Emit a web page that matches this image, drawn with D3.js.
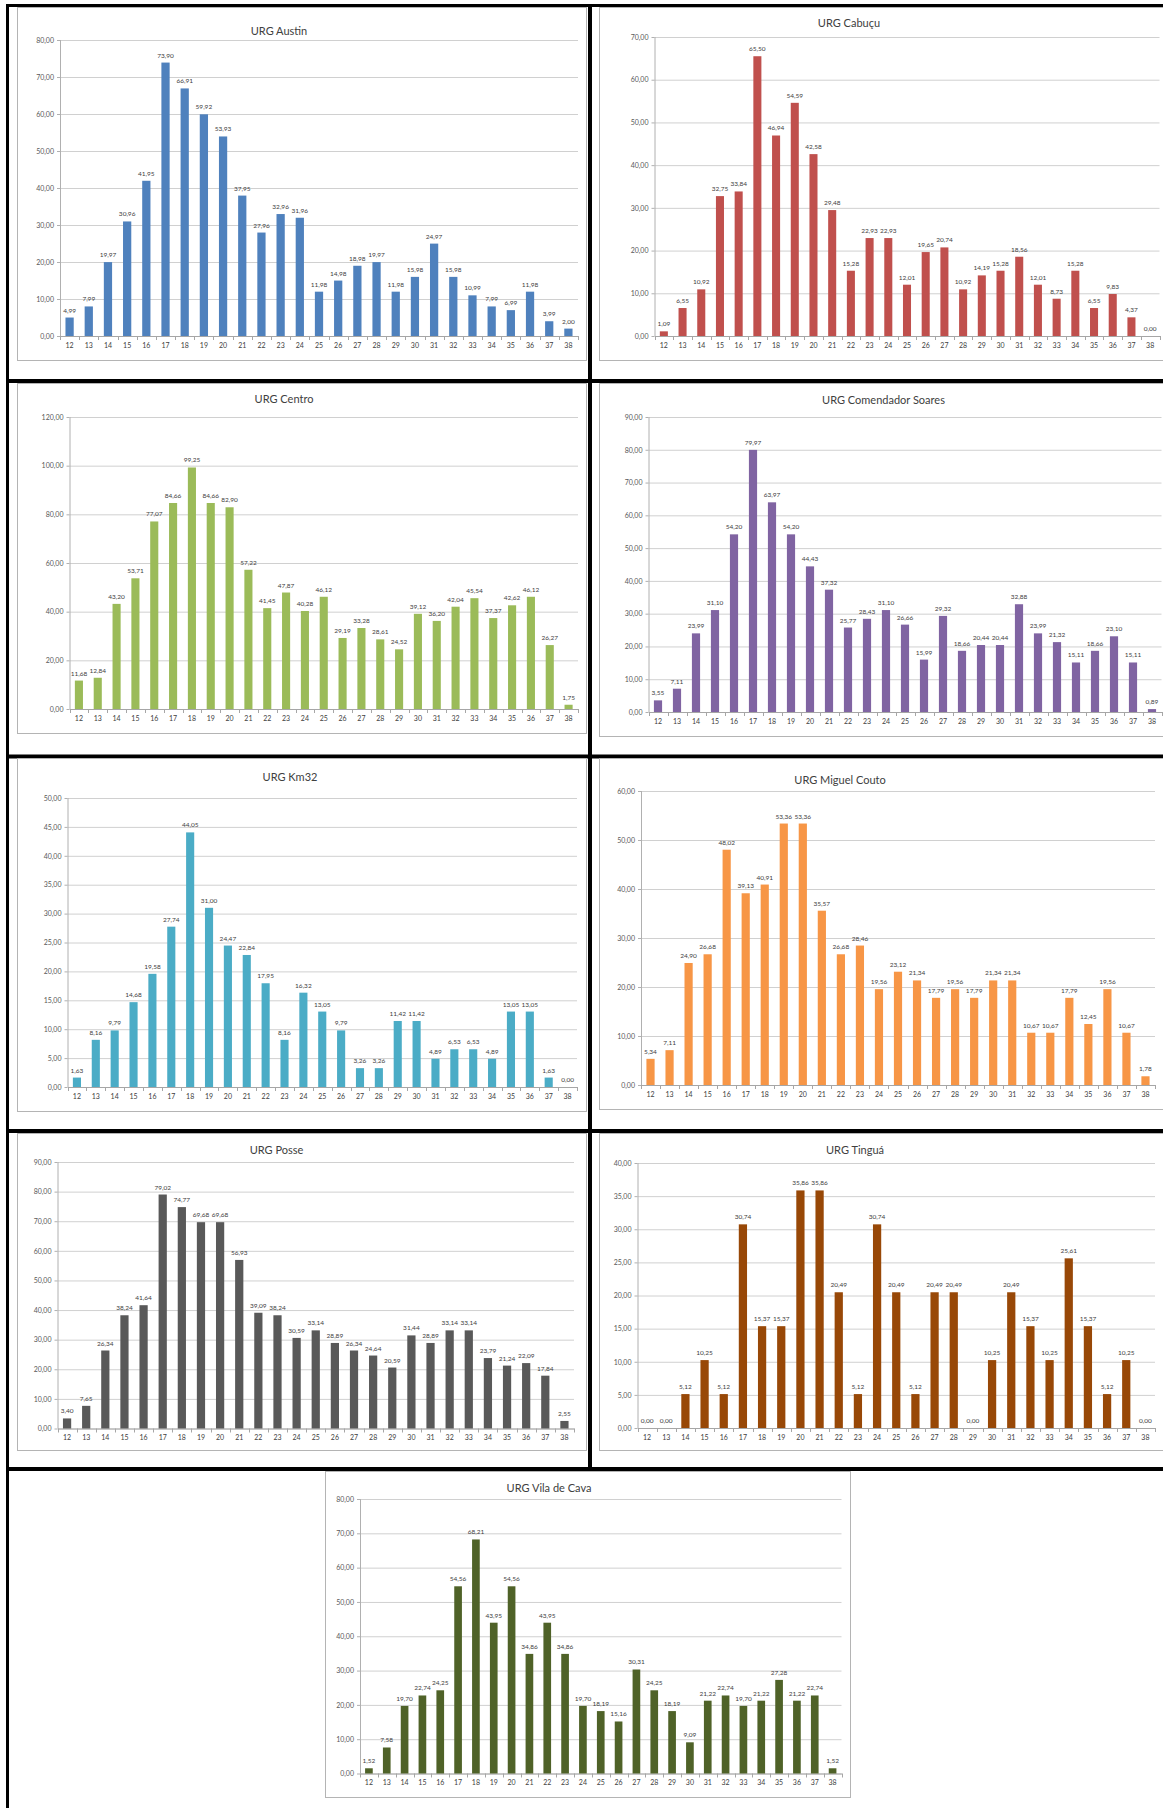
<!DOCTYPE html>
<html>
<head>
<meta charset="utf-8">
<script src="https://cdn.jsdelivr.net/npm/d3@7"></script>
<style>
  html, body { margin: 0; padding: 0; background: #fff; }
  svg { display: block; }
  text { font-family: Lato, "Open Sans", "Liberation Sans", sans-serif; }
</style>
</head>
<body>
<svg id="page" width="1163" height="1808"></svg>
<script>
// Idade (anos) no eixo X
const ages = d3.range(12, 39).map(String);

// Taxas por unidade, uma por idade de 12 a 38
const austin = [4.99, 7.99, 19.97, 30.96, 41.95, 73.90, 66.91, 59.92, 53.93, 37.95, 27.96, 32.96, 31.96, 11.98, 14.98, 18.98, 19.97, 11.98, 15.98, 24.97, 15.98, 10.99, 7.99, 6.99, 11.98, 3.99, 2.00];
const cabucu = [1.09, 6.55, 10.92, 32.75, 33.84, 65.50, 46.94, 54.59, 42.58, 29.48, 15.28, 22.93, 22.93, 12.01, 19.65, 20.74, 10.92, 14.19, 15.28, 18.56, 12.01, 8.73, 15.28, 6.55, 9.83, 4.37, 0.00];
const centro = [11.68, 12.84, 43.20, 53.71, 77.07, 84.66, 99.25, 84.66, 82.90, 57.22, 41.45, 47.87, 40.28, 46.12, 29.19, 33.28, 28.61, 24.52, 39.12, 36.20, 42.04, 45.54, 37.37, 42.62, 46.12, 26.27, 1.75];
const comendadorSoares = [3.55, 7.11, 23.99, 31.10, 54.20, 79.97, 63.97, 54.20, 44.43, 37.32, 25.77, 28.43, 31.10, 26.66, 15.99, 29.32, 18.66, 20.44, 20.44, 32.88, 23.99, 21.32, 15.11, 18.66, 23.10, 15.11, 0.89];
const km32 = [1.63, 8.16, 9.79, 14.68, 19.58, 27.74, 44.05, 31.00, 24.47, 22.84, 17.95, 8.16, 16.32, 13.05, 9.79, 3.26, 3.26, 11.42, 11.42, 4.89, 6.53, 6.53, 4.89, 13.05, 13.05, 1.63, 0.00];
const miguelCouto = [5.34, 7.11, 24.90, 26.68, 48.02, 39.13, 40.91, 53.36, 53.36, 35.57, 26.68, 28.46, 19.56, 23.12, 21.34, 17.79, 19.56, 17.79, 21.34, 21.34, 10.67, 10.67, 17.79, 12.45, 19.56, 10.67, 1.78];
const posse = [3.40, 7.65, 26.34, 38.24, 41.64, 79.02, 74.77, 69.68, 69.68, 56.93, 39.09, 38.24, 30.59, 33.14, 28.89, 26.34, 24.64, 20.59, 31.44, 28.89, 33.14, 33.14, 23.79, 21.24, 22.09, 17.84, 2.55];
const tingua = [0.00, 0.00, 5.12, 10.25, 5.12, 30.74, 15.37, 15.37, 35.86, 35.86, 20.49, 5.12, 30.74, 20.49, 5.12, 20.49, 20.49, 0.00, 10.25, 20.49, 15.37, 10.25, 25.61, 15.37, 5.12, 10.25, 0.00];
const vilaDeCava = [1.52, 7.58, 19.70, 22.74, 24.25, 54.56, 68.21, 43.95, 54.56, 34.86, 43.95, 34.86, 19.70, 18.19, 15.16, 30.31, 24.25, 18.19, 9.09, 21.22, 22.74, 19.70, 21.22, 27.28, 21.22, 22.74, 1.52];

// Título de cada gráfico
const titles = ["URG Austin", "URG Cabuçu", "URG Centro", "URG Comendador Soares", "URG Km32",
                "URG Miguel Couto", "URG Posse", "URG Tinguá", "URG Vila de Cava"];

// Escala do eixo Y de cada gráfico: máximo e intervalo
const yMax  = [80, 70, 120, 90, 50, 60, 90, 40, 80];
const yStep = [10, 10, 20, 10, 5, 10, 10, 5, 10];

const series = [austin, cabucu, centro, comendadorSoares, km32, miguelCouto, posse, tingua, vilaDeCava];

// Posição de cada gráfico na página (moldura, área de plotagem, título) e cor das barras
const layout = [
  { frame: [17, 7, 586, 360],     plot: [60, 578, 40, 336],      title: [279, 35],     color: "#4F81BD" },
  { frame: [599, 7, 1175, 360],   plot: [654.5, 1159.5, 37, 336], title: [849, 27],     color: "#C0504D" },
  { frame: [17, 383, 586, 733],   plot: [69.5, 578, 417, 709],   title: [284, 403],    color: "#9BBB59" },
  { frame: [599, 383, 1175, 736], plot: [648.5, 1161.5, 417, 712], title: [883.5, 404], color: "#8064A2" },
  { frame: [17, 758, 586, 1111],  plot: [67.5, 577, 798, 1087],  title: [290, 781],    color: "#4BACC6" },
  { frame: [599, 758, 1175, 1109], plot: [641, 1155, 791, 1085], title: [840, 784],    color: "#F79646" },
  { frame: [17, 1133, 586, 1450], plot: [57.5, 574, 1162, 1428.5], title: [276.5, 1154], color: "#595959" },
  { frame: [599, 1133, 1175, 1450], plot: [637.5, 1155, 1163, 1428], title: [855, 1154], color: "#984807" },
  { frame: [325, 1471, 850, 1797], plot: [360, 841.5, 1499, 1773.5], title: [549, 1492], color: "#4F6228" }
];

const fmt = v => d3.format(".2f")(v).replace(".", ",");
const svg = d3.select("#page");

// Bordas da tabela que contém os gráficos
const border = svg.append("g").attr("fill", "#000");
border.append("rect").attr("x", 6).attr("y", 4).attr("width", 3).attr("height", 1804);
border.append("rect").attr("x", 6).attr("y", 4).attr("width", 1157).attr("height", 3);
border.append("rect").attr("x", 588).attr("y", 4).attr("width", 4).attr("height", 1467);
[379, 754.5, 1129, 1467].forEach(yy =>
  border.append("rect").attr("x", 6).attr("y", yy).attr("width", 1157).attr("height", 4));

series.forEach((values, i) => {
  const L = layout[i];
  const [fx0, fy0, fx1, fy1] = L.frame;
  const [left, right, top, base] = L.plot;
  const g = svg.append("g");

  // moldura do gráfico
  g.append("rect")
    .attr("x", fx0 + 0.5).attr("y", fy0 + 0.5)
    .attr("width", fx1 - fx0).attr("height", fy1 - fy0)
    .attr("fill", "#fff").attr("stroke", "#b4b4b4").attr("stroke-width", 1);

  const x = d3.scaleBand().domain(ages).range([left, right])
    .paddingInner(0.57).paddingOuter(0.285);
  const y = d3.scaleLinear().domain([0, yMax[i]]).range([base, top]);
  const ticks = d3.range(0, yMax[i] + yStep[i] / 2, yStep[i]);

  // grade horizontal e rótulos do eixo Y
  const yAxis = g.append("g")
    .attr("transform", `translate(${left},0)`)
    .call(d3.axisLeft(y).tickValues(ticks).tickFormat(fmt)
      .tickSizeInner(-(right - left)).tickSizeOuter(0).tickPadding(6));
  yAxis.select(".domain").remove();
  yAxis.selectAll(".tick line").attr("stroke", "#d0d0d0").attr("stroke-width", 1);
  yAxis.selectAll(".tick text").attr("fill", "#595959").attr("font-size", 7);
  // pequenas marcas à esquerda do eixo
  yAxis.selectAll(".tick").append("line")
    .attr("x1", -3).attr("x2", 0).attr("stroke", "#b0b0b0");

  // linha do eixo Y
  g.append("line")
    .attr("x1", left + 0.5).attr("x2", left + 0.5).attr("y1", top).attr("y2", base)
    .attr("stroke", "#b0b0b0");

  // eixo X com rótulos de idade
  const xAxis = g.append("g")
    .attr("transform", `translate(0,${base})`)
    .call(d3.axisBottom(x).tickSize(0).tickPadding(7));
  xAxis.select(".domain").attr("stroke", "#a6a6a6");
  xAxis.selectAll(".tick text").attr("fill", "#404040").attr("font-size", 7);
  // marcas entre as categorias
  const step = x.step();
  g.append("g").selectAll("line")
    .data(d3.range(ages.length + 1))
    .join("line")
    .attr("x1", k => Math.round(left + k * step) + 0.5)
    .attr("x2", k => Math.round(left + k * step) + 0.5)
    .attr("y1", base).attr("y2", base + 4)
    .attr("stroke", "#a6a6a6");

  // barras
  g.append("g").selectAll("rect")
    .data(values)
    .join("rect")
    .attr("x", (d, k) => x(ages[k]))
    .attr("width", x.bandwidth())
    .attr("y", d => y(d))
    .attr("height", d => base - y(d))
    .attr("fill", L.color);

  // rótulos de valor
  g.append("g").selectAll("text")
    .data(values)
    .join("text")
    .attr("x", (d, k) => x(ages[k]) + x.bandwidth() / 2)
    .attr("y", d => y(d) - 5)
    .attr("text-anchor", "middle")
    .attr("font-size", 6.5)
    .attr("fill", "#404040")
    .text(fmt);

  // título
  g.append("text")
    .attr("x", L.title[0]).attr("y", L.title[1])
    .attr("text-anchor", "middle")
    .attr("font-size", 11)
    .attr("fill", "#404040")
    .text(titles[i]);
});
</script>
</body>
</html>
